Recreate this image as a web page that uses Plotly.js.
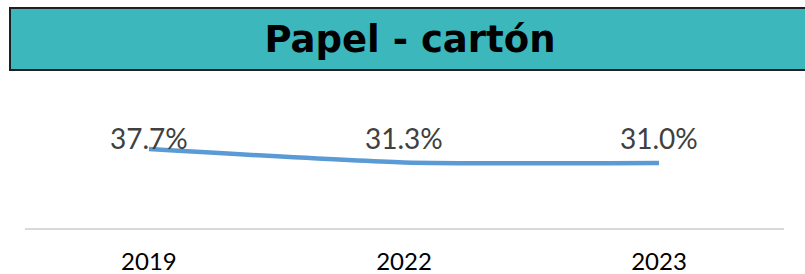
<!DOCTYPE html>
<html>
<head>
<meta charset="utf-8">
<script src="https://cdn.plot.ly/plotly-3.0.1.min.js"></script>
<style>
  html, body { margin: 0; padding: 0; background: #ffffff; }
  #chart { width: 805px; height: 274px; }
</style>
</head>
<body>
<div id="chart"></div>
<script>
const chartTitle = "Papel - cartón";
const years = ["2019", "2022", "2023"];
const shares = [37.7, 31.3, 31.0];
const shareLabels = ["37.7%", "31.3%", "31.0%"];

const W = 805, H = 274;
const mL = 25, mR = 21, mT = 80, mB = 46;
const plotW = W - mL - mR, plotH = H - mT - mB;
const px = x => (x - mL) / plotW;
const py = y => (H - mB - y) / plotH;

const trace = {
  type: "scatter",
  mode: "lines",
  x: years,
  y: shares,
  line: { color: "#5B9BD5", width: 4.5, shape: "spline", smoothing: 0.6 },
  hoverinfo: "skip"
};

// category axis: annotations use the category's serial index
const labelAnnotations = years.map((yr, i) => ({
  x: i,
  xref: "x",
  yref: "paper",
  y: py(138),
  yanchor: "middle",
  xanchor: "center",
  text: shareLabels[i],
  showarrow: false,
  font: { family: "Lato, 'DejaVu Sans', sans-serif", size: 28, color: "#404040" }
}));

const layout = {
  width: W, height: H,
  margin: { l: mL, r: mR, t: mT, b: mB, pad: 0 },
  paper_bgcolor: "#ffffff",
  plot_bgcolor: "#ffffff",
  showlegend: false,
  title: {
    text: "<b>" + chartTitle + "</b>",
    font: { family: "'DejaVu Sans', sans-serif", size: 37, color: "#000000" },
    xref: "paper", x: px(410), xanchor: "center",
    yref: "container", y: 1 - 39 / H, yanchor: "middle"
  },
  xaxis: {
    type: "category",
    range: [-0.486, 2.490],
    showgrid: false,
    zeroline: false,
    showline: true,
    linecolor: "#d9d9d9",
    linewidth: 2,
    ticks: "",
    tickfont: { family: "Lato, sans-serif", size: 24, color: "#000000" },
    ticklabelstandoff: 11,
    fixedrange: true
  },
  yaxis: {
    range: [0, plotH / 2.096],
    visible: false,
    showgrid: false,
    zeroline: false,
    fixedrange: true
  },
  annotations: labelAnnotations,
  shapes: [{
    type: "rect",
    xref: "paper", yref: "paper",
    x0: px(10), x1: px(830),
    y0: py(70), y1: py(8),
    fillcolor: "#3CB8BC",
    line: { color: "#1f1f1f", width: 2 },
    layer: "below"
  }]
};

Plotly.newPlot("chart", [trace], layout, { displayModeBar: false, staticPlot: true });
</script>
</body>
</html>
